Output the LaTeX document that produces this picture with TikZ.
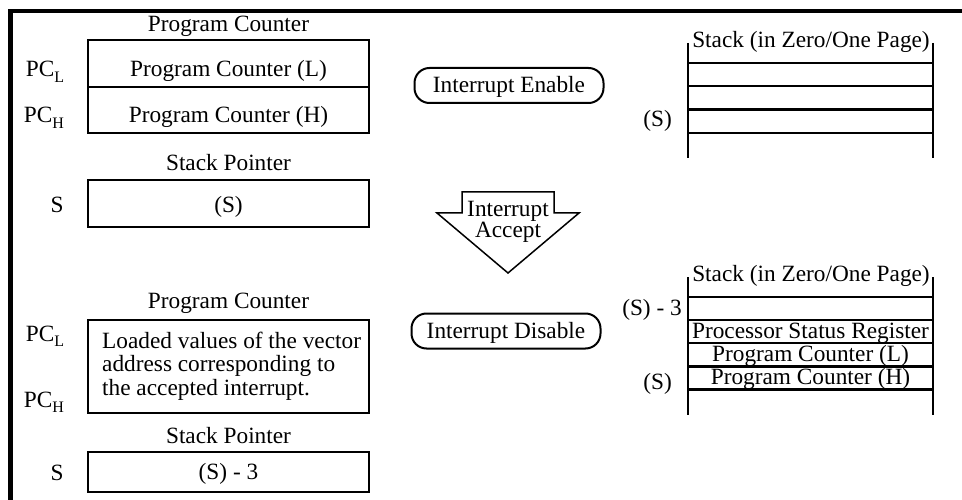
\documentclass[tikz,border=0pt]{standalone}
\usepackage{fontspec}
\setmainfont{Liberation Serif}
\newcommand{\sbs}[1]{\raisebox{-5.5pt}{\fontsize{16}{16}\selectfont #1}}
\begin{document}
\begin{tikzpicture}[x=1pt,y=-1pt,
  every node/.style={font=\fontsize{23.3}{23.3}\selectfont, inner sep=0pt},
  txt/.style={anchor=base},
  regbox/.style={draw, line width=2pt, minimum width=281pt},
  pill/.style={draw, line width=2pt, rounded corners=15pt, minimum width=189pt, minimum height=35pt},
  stackline/.style={line width=2.5pt},
  frameline/.style={line width=4.5pt}
]
\useasboundingbox (0,0) rectangle (962,500);
% frame
\draw[frameline] (10.5,502) -- (10.5,11) -- (964,11);

% ---- top left registers
\node[txt] (pct1) at (228.5,31.5) {Program Counter};
\node[regbox, minimum height=47pt] (pcl1) at (228.5,63.5) {};
\node[regbox, minimum height=46pt] (pch1) at (228.5,110) {};
\node[txt] (pcl1t) at (228.5,77) {Program Counter (L)};
\node[txt] (pch1t) at (228.5,123) {Program Counter (H)};
\node[txt] (pcll1) at (45,77) {PC\sbs{L}};
\node[txt] (pchl1) at (44,123) {PC\sbs{H}};
\node[txt] (spt1) at (228.5,171) {Stack Pointer};
\node[regbox, minimum height=47pt] (sp1) at (228.5,203.5) {};
\node[txt] (sp1t) at (228.5,212) {(S)};
\node[txt] (sl1) at (57,212) {S};

% ---- bottom left registers
\node[txt] (pct2) at (228.5,308.5) {Program Counter};
\node[regbox, minimum height=93pt] (pc2) at (228.5,366.5) {};
\node[anchor=north west, align=left, font=\fontsize{23.3}{23.5}\selectfont] (pc2t) at (102,331.5)
  {Loaded values of the vector\\address corresponding to\\the accepted interrupt.};
\node[txt] (pcll2) at (45,341) {PC\sbs{L}};
\node[txt] (pchl2) at (44,407) {PC\sbs{H}};
\node[txt] (spt2) at (228.5,443.5) {Stack Pointer};
\node[regbox, minimum height=40pt] (sp2) at (228.5,472) {};
\node[txt] (sp2t) at (228.5,479) {(S) - 3};
\node[txt] (sl2) at (57,480) {S};

% ---- middle
\node[pill] (ie) at (509,85.5) {};
\node[txt] (iet) at (509,93) {Interrupt Enable};
\node[pill] (id) at (506,331) {};
\node[txt] (idt) at (506,338) {Interrupt Disable};
\draw[line width=1.5pt, line join=miter] (462,192) -- (554,192) -- (554,213) -- (579,213)
  -- (508,273) -- (437,213) -- (462,213) -- cycle;
\node[txt] (ia1) at (508,216.5) {Interrupt};
\node[txt] (ia2) at (508,237.5) {Accept};

% ---- top stack
\node[txt] (st1) at (811,48) {Stack (in Zero/One Page)};
\coordinate (s1tl) at (688,43);
\coordinate (s1tr) at (933,43);
\coordinate (s1bl) at (688,158);
\coordinate (s1br) at (933,158);
\draw[stackline] (s1tl) -- (s1bl);
\draw[stackline] (s1tr) -- (s1br);
\foreach \yy in {63,86,109.5,133}{
  \draw[stackline] (688,\yy) -- (933,\yy);
}
\node[anchor=base east] (s1lbl) at (672,127) {(S)};

% ---- bottom stack
\node[txt] (st2) at (811,281) {Stack (in Zero/One Page)};
\coordinate (s2tl) at (688,277);
\coordinate (s2tr) at (933,277);
\coordinate (s2bl) at (688,415);
\coordinate (s2br) at (933,415);
\draw[stackline] (s2tl) -- (s2bl);
\draw[stackline] (s2tr) -- (s2br);
\foreach \yy in {297,320,343,366.5,389.5}{
  \draw[stackline] (688,\yy) -- (933,\yy);
}
\node[txt] (r1) at (810.5,338) {Processor Status Register};
\node[txt] (r2) at (810.5,361) {Program Counter (L)};
\node[txt] (r3) at (810.5,384.5) {Program Counter (H)};
\node[anchor=base east] (s2lbl3) at (682,315) {(S) - 3};
\node[anchor=base east] (s2lbl) at (672,389) {(S)};
\end{tikzpicture}
\end{document}
